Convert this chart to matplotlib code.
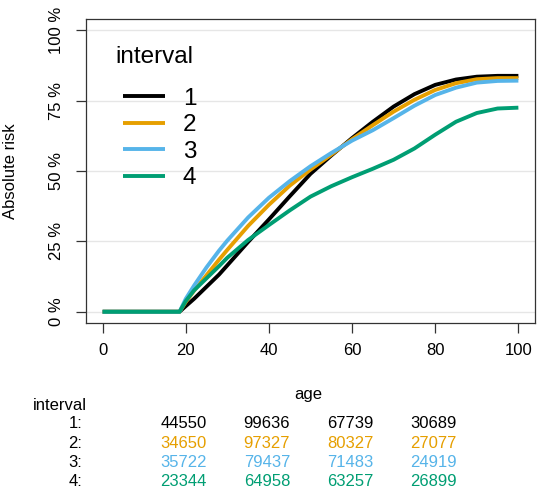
import matplotlib
matplotlib.use("Agg")
import matplotlib.pyplot as plt
import matplotlib.transforms as mtransforms

plt.rcParams['font.family'] = ['Liberation Sans', 'DejaVu Sans']

# curve values (absolute risk in %)
age = [0, 18.5, 20, 22, 25, 28, 30, 35, 40, 45, 50, 55, 60, 65, 70, 75, 80, 85, 90, 95, 100]
risk_1 = [0, 0, 2, 4.6, 8.9, 13.2, 16.5, 24.8, 32.8, 41, 49, 55.5, 61.7, 67.5, 72.9, 77.3, 80.6, 82.5, 83.5, 83.8, 83.8]
risk_2 = [0, 0, 3.5, 7.5, 13, 18.5, 22, 30.5, 38, 44.8, 50.5, 55.8, 61.3, 66.3, 71.1, 75.3, 78.8, 81.2, 82.6, 83, 83]
risk_3 = [0, 0, 4.6, 9.3, 15.8, 21.7, 25.3, 33.5, 40.5, 46.4, 51.7, 56.4, 60.8, 64.5, 68.8, 73.2, 77, 79.6, 81.4, 82, 82.1]
risk_4 = [0, 0, 3.8, 7.6, 11.9, 16.2, 19.2, 25.5, 30.8, 36, 40.9, 44.6, 47.8, 50.8, 54, 58, 62.9, 67.5, 70.6, 72.2, 72.5]

intervals = ['1', '2', '3', '4']
colors = ['black', '#E69F00', '#56B4E9', '#009E73']

# numbers at risk table
table_ages = [20, 40, 60, 80]
at_risk_1 = [44550, 99636, 67739, 30689]
at_risk_2 = [34650, 97327, 80327, 27077]
at_risk_3 = [35722, 79437, 71483, 24919]
at_risk_4 = [23344, 64958, 63257, 26899]

W, H = 537, 496
fig = plt.figure(figsize=(W / 100, H / 100), dpi=100)
ax = fig.add_axes([86 / W, 1 - 323 / H, 449 / W, 304 / H])

series = [risk_1, risk_2, risk_3, risk_4]
lines = []
for vals, col, lab in zip(series, colors, intervals):
    ln, = ax.plot(age, vals, color=col, lw=2.8, label=lab, solid_capstyle='butt')
    lines.append(ln)

ax.set_xlim(-4, 104)
ax.set_ylim(-4, 104)
ax.set_xticks([0, 20, 40, 60, 80, 100])
ax.set_yticks([0, 25, 50, 75, 100])
ax.set_yticklabels(['0 %', '25 %', '50 %', '75 %', '100 %'])
for y in [0, 25, 50, 75, 100]:
    ax.axhline(y, color='#e6e6e6', lw=1, zorder=0)

ax.tick_params(axis='both', direction='out', length=7.5, width=0.9, labelsize=12, color='#333333')
ax.tick_params(axis='x', pad=7)
ax.tick_params(axis='y', pad=8)
plt.setp(ax.get_yticklabels(), rotation=90, va='center')
for s in ax.spines.values():
    s.set_linewidth(0.9)
    s.set_color('#333333')

ax.set_ylabel('Absolute risk', fontsize=12)
ax.yaxis.set_label_coords((18 - 86) / 449, 0.5)

ax.text((115 - 86) / 449, 1 - (56.7 - 19) / 304, 'interval', transform=ax.transAxes,
        fontsize=17.5, ha='left', va='center')
ax.legend(handles=lines, loc='upper left', bbox_to_anchor=((123 - 86) / 449, 1 - (87.5 - 19) / 304),
          frameon=False, fontsize=17.5, handlelength=1.71, handletextpad=0.75,
          labelspacing=0.19, borderpad=0, borderaxespad=0)

# table below the plot
fig.text(308 / W, 1 - 394 / H, 'age', fontsize=12, ha='center', va='center')
fig.text(32.4 / W, 1 - 405.6 / H, 'interval', fontsize=12, ha='left', va='center')
row_y = [424, 443.4, 462.8, 482]
trans = mtransforms.blended_transform_factory(ax.transData, fig.transFigure)
for lab, vals, col, yy in zip(intervals, [at_risk_1, at_risk_2, at_risk_3, at_risk_4], colors, row_y):
    fig.text(82 / W, 1 - yy / H, lab + ':', fontsize=12, ha='right', va='center')
    for a, v in zip(table_ages, vals):
        ax.text(a - 0.5, 1 - yy / H, str(v), transform=trans, fontsize=12, color=col,
                ha='center', va='center', clip_on=False)

fig.savefig('out.png', dpi=100)
